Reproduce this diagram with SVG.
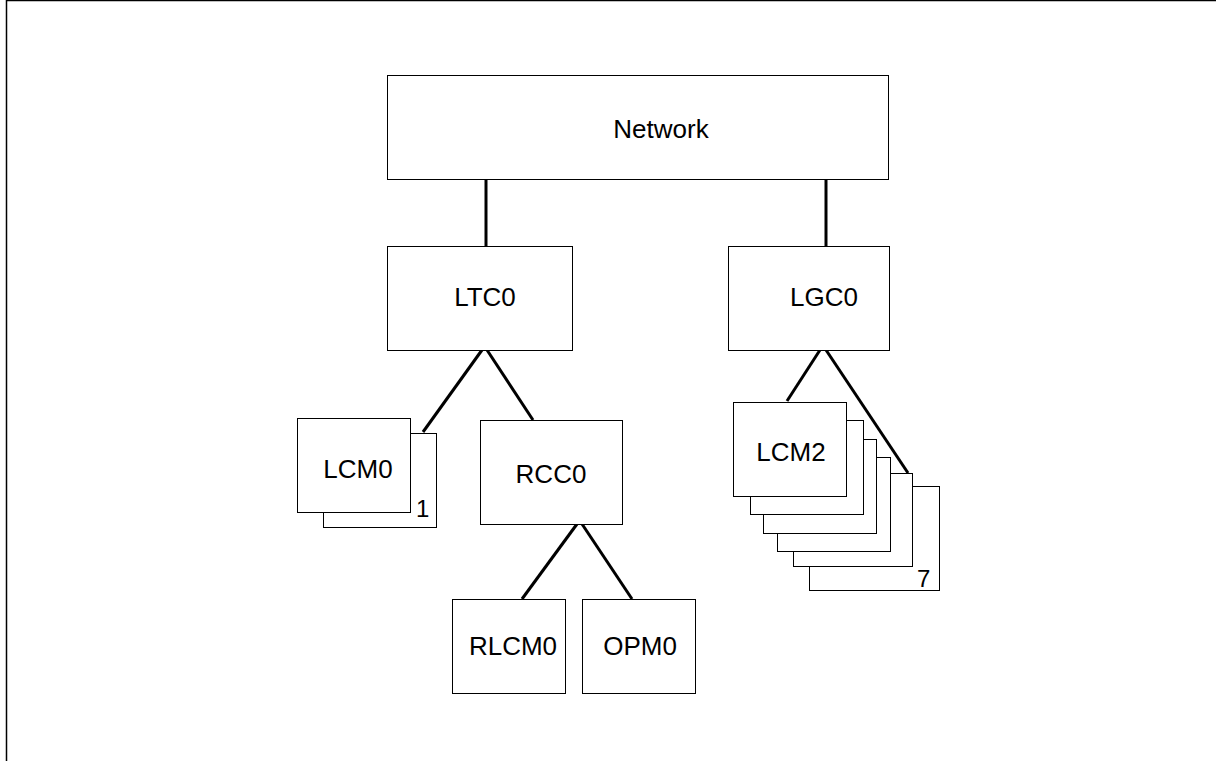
<svg xmlns="http://www.w3.org/2000/svg" width="1216" height="761" viewBox="0 0 1216 761">
<style>
.box{fill:#fff;stroke:#000;stroke-width:1}
.lbl{font-family:"Liberation Sans",Arial,sans-serif;font-size:26px;fill:#000;text-anchor:middle}
.num{font-family:"Liberation Sans",Arial,sans-serif;font-size:24px;fill:#000}
.link{stroke:#000;stroke-width:3;fill:none}
</style>
<rect x="0" y="0" width="1216" height="761" fill="#fff"/>
<path d="M6.5,761 V0.5 H1216" fill="none" stroke="#000" stroke-width="1.5"/>
<g id="connectors">
<line class="link" x1="486" y1="179" x2="486" y2="246"/>
<line class="link" x1="826" y1="179" x2="826" y2="246"/>
<line class="link" x1="482" y1="350" x2="423" y2="432"/>
<line class="link" x1="487" y1="350" x2="533" y2="420"/>
<line class="link" x1="577" y1="524" x2="522" y2="599"/>
<line class="link" x1="582" y1="524" x2="632" y2="599"/>
<line class="link" x1="820" y1="350" x2="787" y2="401"/>
<line class="link" x1="826" y1="350" x2="908" y2="473"/>
</g>
<g id="network"><rect class="box" x="387.5" y="75.5" width="501" height="104"/><text class="lbl" x="661" y="138">Network</text></g>
<g id="ltc0"><rect class="box" x="387.5" y="246.5" width="185" height="104"/><text class="lbl" x="485" y="306">LTC0</text></g>
<g id="lgc0"><rect class="box" x="728.5" y="246.5" width="161" height="104"/><text class="lbl" x="824" y="306">LGC0</text></g>
<g id="lcm0">
<rect class="box" x="323.5" y="433.5" width="113" height="94"/>
<rect class="box" x="297.5" y="418.5" width="113" height="94"/>
<text class="lbl" x="358" y="478">LCM0</text>
<text class="num" x="416" y="517">1</text>
</g>
<g id="rcc0"><rect class="box" x="480.5" y="420.5" width="142" height="104"/><text class="lbl" x="551" y="483">RCC0</text></g>
<g id="rlcm0"><rect class="box" x="452.5" y="599.5" width="113" height="94"/><text class="lbl" x="513" y="655">RLCM0</text></g>
<g id="opm0"><rect class="box" x="582.5" y="599.5" width="113" height="94"/><text class="lbl" x="640" y="655">OPM0</text></g>
<g id="lcm2">
<rect class="box" x="809.5" y="486.5" width="130" height="104"/>
<rect class="box" x="793.5" y="473.5" width="119" height="93"/>
<rect class="box" x="777.5" y="457.5" width="113" height="94"/>
<rect class="box" x="763.5" y="439.5" width="113" height="94"/>
<rect class="box" x="750.5" y="420.5" width="113" height="94"/>
<rect class="box" x="733.5" y="402.5" width="113" height="94"/>
<text class="lbl" x="791" y="461">LCM2</text>
<text class="num" x="917" y="587">7</text>
</g>
</svg>
